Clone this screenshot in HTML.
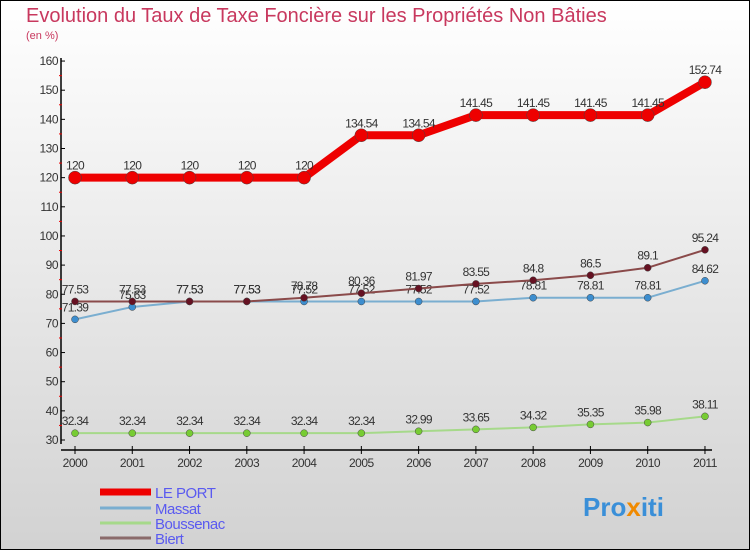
<!DOCTYPE html>
<html><head><meta charset="utf-8"><style>
body{margin:0;}
#wrap{width:750px;height:550px;position:relative;box-sizing:border-box;border:1px solid #000;background:linear-gradient(#ffffff,#d2d2d2);font-family:"Liberation Sans",sans-serif;overflow:hidden}
</style></head><body>
<div id="wrap">
<svg id="chart" width="750" height="550" style="position:absolute;left:-1px;top:-1px">
<text x="26" y="22" font-size="20" fill="#c8385e">Evolution du Taux de Taxe Foncière sur les Propriétés Non Bâties</text>
<text x="26" y="39" font-size="11" fill="#c8385e">(en %)</text>
<g id="axes"></g><g id="series"></g><g id="legend"></g>
<text x="583" y="516" font-size="26" font-weight="bold" fill="#3a8fd8">Pro<tspan fill="#f08a00">x</tspan>iti</text>
</svg>
</div>
<script>
const years=["2000","2001","2002","2003","2004","2005","2006","2007","2008","2009","2010","2011"];
const yTicks=[30,40,50,60,70,80,90,100,110,120,130,140,150,160];
const lePort=[120,120,120,120,120,134.54,134.54,141.45,141.45,141.45,141.45,152.74];
const massat=[71.39,75.63,77.53,77.53,77.52,77.52,77.52,77.52,78.81,78.81,78.81,84.62];
const boussenac=[32.34,32.34,32.34,32.34,32.34,32.34,32.99,33.65,34.32,35.35,35.98,38.11];
const biert=[77.53,77.53,77.53,77.53,78.78,80.36,81.97,83.55,84.8,86.5,89.1,95.24];
const NS="http://www.w3.org/2000/svg";
const xs=i=>75+i*57.27;
const ys=v=>440-(v-30)*2.915;
function mk(tag,attrs,parent,text){const e=document.createElementNS(NS,tag);for(const k in attrs)e.setAttribute(k,attrs[k]);if(text!==undefined)e.textContent=text;parent.appendChild(e);return e;}
const axes=document.getElementById('axes');
let e=mk('line',{x1:61,y1:58,x2:61,y2:444,stroke:'#000','stroke-width':1.5},axes);


e=mk('line',{x1:61,y1:450,x2:712,y2:450,stroke:'#000','stroke-width':1.5},axes);


yTicks.forEach(v=>{
 mk('line',{x1:61,y1:ys(v),x2:65,y2:ys(v),stroke:'#000'},axes);
 if(v<160)mk('line',{x1:59,y1:ys(v+5),x2:62,y2:ys(v+5),stroke:'#e00'},axes);
 const t=mk('text',{x:58,y:ys(v)+4,'font-size':12,fill:'#333','text-anchor':'end','letter-spacing':'-0.5'},axes,String(v));
 
 
});
years.forEach((y,i)=>{
 mk('line',{x1:xs(i),y1:446,x2:xs(i),y2:454,stroke:'#000'},axes);
 const t=mk('text',{x:xs(i),y:467,'font-size':12,fill:'#333','text-anchor':'middle','letter-spacing':'-0.5'},axes,y);
 
 
});
const ser=document.getElementById('series');
function drawSeries(vals,color,dot,w,r,name){
 const g=mk('g',{},ser);
 
 
 const pts=vals.map((v,i)=>xs(i)+','+ys(v)).join(' ');
 mk('polyline',{points:pts,fill:'none',stroke:color,'stroke-width':w,'stroke-linejoin':'round'},g);
 vals.forEach((v,i)=>{
  const c=mk('circle',{cx:xs(i),cy:ys(v),r:r,fill:dot,stroke:'#444','stroke-width':0.5},g);
  
  
  const t=mk('text',{x:xs(i),y:ys(v)-8,'font-size':12,fill:'#333','text-anchor':'middle','letter-spacing':'-0.7'},g,String(v));
  
  
 });
}
drawSeries(boussenac,'#a6d98a','#77cc33',2,3.5,'boussenac');
drawSeries(massat,'#7aaed0','#3d8ecf',2,3.5,'massat');
drawSeries(biert,'#8a4a4a','#661122',2,3.5,'biert');
drawSeries(lePort,'#ee0000','#ee0000',8,6.5,'le-port');
const leg=document.getElementById('legend');
[['LE PORT','#ee0000',7,492],['Massat','#7aaed0',3,508],['Boussenac','#a6d98a',3,523],['Biert','#8a6a6a',3,538]].forEach(([n,c,w,y])=>{
 const g=mk('g',{},leg);
 
 
 mk('line',{x1:100,y1:y,x2:151,y2:y,stroke:c,'stroke-width':w},g);
 mk('text',{x:155,y:y+6,'font-size':15,fill:'#5a5af0','letter-spacing':'-0.5'},g,n);
});
</script>
</body></html>
